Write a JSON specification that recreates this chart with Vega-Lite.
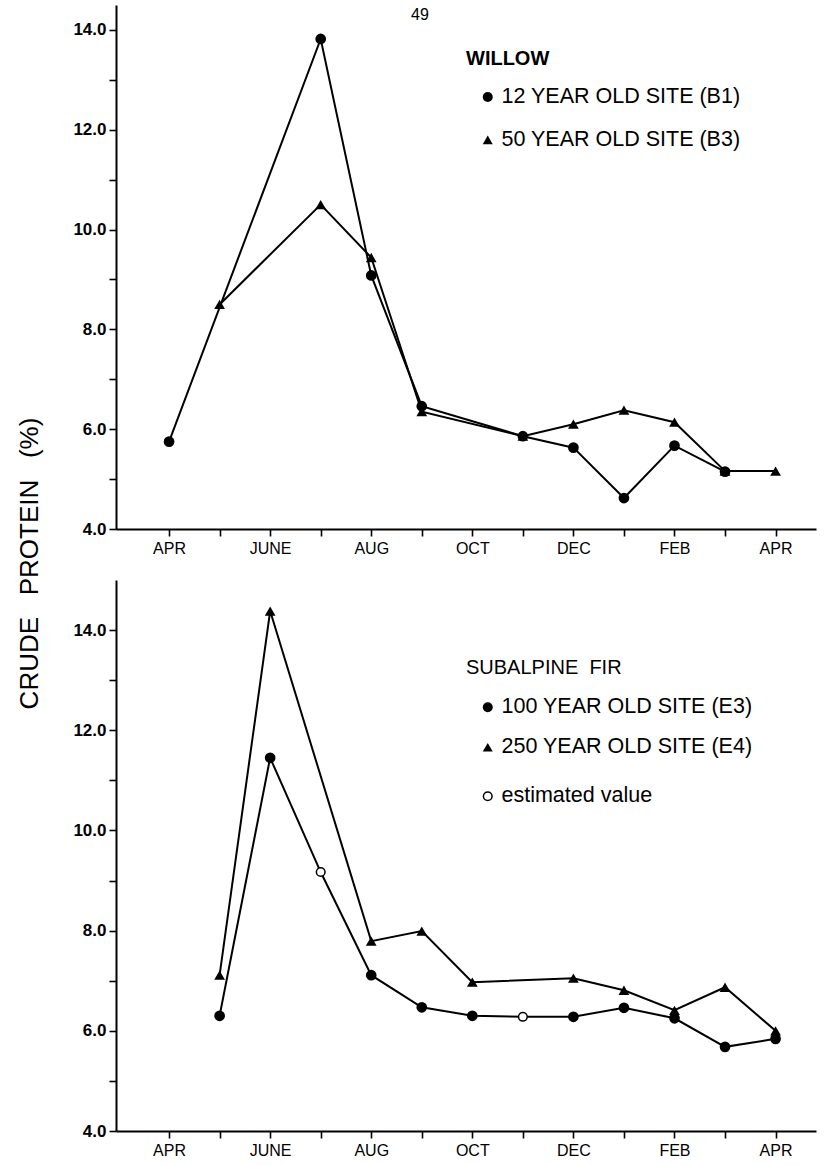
{
  "$schema": "https://vega.github.io/schema/vega-lite/v6.json",
  "padding": {"left": 16, "top": 5, "right": 4, "bottom": 5},
  "background": "white",
  "spacing": 51,
  "bounds": "flush",
  "title": {
    "text": "CRUDE\u00a0\u00a0 PROTEIN\u00a0\u00a0 (%)",
    "orient": "left",
    "anchor": "middle",
    "fontSize": 26,
    "fontWeight": "normal",
    "font": "Liberation Sans",
    "color": "black",
    "offset": 30,
    "dx": 18
  },
  "data": {
    "values": [
      {"panel": "willow", "site": "12 YEAR OLD SITE (B1)", "month": 0, "protein": 5.75, "est": false},
      {"panel": "willow", "site": "12 YEAR OLD SITE (B1)", "month": 3, "protein": 13.82, "est": false},
      {"panel": "willow", "site": "12 YEAR OLD SITE (B1)", "month": 4, "protein": 9.08, "est": false},
      {"panel": "willow", "site": "12 YEAR OLD SITE (B1)", "month": 5, "protein": 6.46, "est": false},
      {"panel": "willow", "site": "12 YEAR OLD SITE (B1)", "month": 7, "protein": 5.86, "est": false},
      {"panel": "willow", "site": "12 YEAR OLD SITE (B1)", "month": 8, "protein": 5.63, "est": false},
      {"panel": "willow", "site": "12 YEAR OLD SITE (B1)", "month": 9, "protein": 4.62, "est": false},
      {"panel": "willow", "site": "12 YEAR OLD SITE (B1)", "month": 10, "protein": 5.67, "est": false},
      {"panel": "willow", "site": "12 YEAR OLD SITE (B1)", "month": 11, "protein": 5.15, "est": false},
      {"panel": "willow", "site": "50 YEAR OLD SITE (B3)", "month": 1, "protein": 8.5, "est": false},
      {"panel": "willow", "site": "50 YEAR OLD SITE (B3)", "month": 3, "protein": 10.5, "est": false},
      {"panel": "willow", "site": "50 YEAR OLD SITE (B3)", "month": 4, "protein": 9.44, "est": false},
      {"panel": "willow", "site": "50 YEAR OLD SITE (B3)", "month": 5, "protein": 6.35, "est": false},
      {"panel": "willow", "site": "50 YEAR OLD SITE (B3)", "month": 7, "protein": 5.86, "est": false},
      {"panel": "willow", "site": "50 YEAR OLD SITE (B3)", "month": 8, "protein": 6.1, "est": false},
      {"panel": "willow", "site": "50 YEAR OLD SITE (B3)", "month": 9, "protein": 6.38, "est": false},
      {"panel": "willow", "site": "50 YEAR OLD SITE (B3)", "month": 10, "protein": 6.14, "est": false},
      {"panel": "willow", "site": "50 YEAR OLD SITE (B3)", "month": 11, "protein": 5.16, "est": false},
      {"panel": "willow", "site": "50 YEAR OLD SITE (B3)", "month": 12, "protein": 5.16, "est": false},
      {"panel": "fir", "site": "100 YEAR OLD SITE (E3)", "month": 1, "protein": 6.3, "est": false},
      {"panel": "fir", "site": "100 YEAR OLD SITE (E3)", "month": 2, "protein": 11.45, "est": false},
      {"panel": "fir", "site": "100 YEAR OLD SITE (E3)", "month": 3, "protein": 9.17, "est": true},
      {"panel": "fir", "site": "100 YEAR OLD SITE (E3)", "month": 4, "protein": 7.11, "est": false},
      {"panel": "fir", "site": "100 YEAR OLD SITE (E3)", "month": 5, "protein": 6.47, "est": false},
      {"panel": "fir", "site": "100 YEAR OLD SITE (E3)", "month": 6, "protein": 6.3, "est": false},
      {"panel": "fir", "site": "100 YEAR OLD SITE (E3)", "month": 7, "protein": 6.28, "est": true},
      {"panel": "fir", "site": "100 YEAR OLD SITE (E3)", "month": 8, "protein": 6.28, "est": false},
      {"panel": "fir", "site": "100 YEAR OLD SITE (E3)", "month": 9, "protein": 6.46, "est": false},
      {"panel": "fir", "site": "100 YEAR OLD SITE (E3)", "month": 10, "protein": 6.25, "est": false},
      {"panel": "fir", "site": "100 YEAR OLD SITE (E3)", "month": 11, "protein": 5.68, "est": false},
      {"panel": "fir", "site": "100 YEAR OLD SITE (E3)", "month": 12, "protein": 5.84, "est": false},
      {"panel": "fir", "site": "250 YEAR OLD SITE (E4)", "month": 1, "protein": 7.11, "est": false},
      {"panel": "fir", "site": "250 YEAR OLD SITE (E4)", "month": 2, "protein": 14.38, "est": false},
      {"panel": "fir", "site": "250 YEAR OLD SITE (E4)", "month": 4, "protein": 7.79, "est": false},
      {"panel": "fir", "site": "250 YEAR OLD SITE (E4)", "month": 5, "protein": 7.99, "est": false},
      {"panel": "fir", "site": "250 YEAR OLD SITE (E4)", "month": 6, "protein": 6.97, "est": false},
      {"panel": "fir", "site": "250 YEAR OLD SITE (E4)", "month": 8, "protein": 7.05, "est": false},
      {"panel": "fir", "site": "250 YEAR OLD SITE (E4)", "month": 9, "protein": 6.81, "est": false},
      {"panel": "fir", "site": "250 YEAR OLD SITE (E4)", "month": 10, "protein": 6.41, "est": false},
      {"panel": "fir", "site": "250 YEAR OLD SITE (E4)", "month": 11, "protein": 6.87, "est": false},
      {"panel": "fir", "site": "250 YEAR OLD SITE (E4)", "month": 12, "protein": 6.0, "est": false}
    ]
  },
  "vconcat": [
    {
      "width": 700,
      "height": 524,
      "title": {"text": "49", "frame": "group", "anchor": "middle", "dx": -46, "offset": -18, "fontSize": 16, "fontWeight": "normal", "font": "Liberation Sans", "color": "black"},
      "transform": [{"filter": "datum.panel == 'willow'"}],
      "encoding": {
        "x": {"field": "month", "type": "quantitative", "scale": {"domain": [-1.05, 12.8], "nice": false, "zero": false},
          "axis": {"title": null, "values": [0,1,2,3,4,5,6,7,8,9,10,11,12], "labelExpr": "datum.value % 2 == 0 ? ['APR','MAY','JUNE','JULY','AUG','SEP','OCT','NOV','DEC','JAN','FEB','MAR','APR'][datum.value] : ''"}},
        "y": {"field": "protein", "type": "quantitative", "scale": {"domain": [4, 14.5], "nice": false, "zero": false},
          "axis": {"title": null, "values": [4,5,6,7,8,9,10,11,12,13,14], "labelExpr": "datum.value % 2 == 0 ? format(datum.value, '.1f') : ''"}}
      },
      "layer": [
        {"mark": {"type": "line", "color": "black", "strokeWidth": 2}, "encoding": {"detail": {"field": "site"}}},
        {"mark": {"type": "point", "filled": true, "color": "black", "size": 115, "opacity": 1},
          "encoding": {"shape": {"field": "site", "type": "nominal",
            "scale": {"domain": ["12 YEAR OLD SITE (B1)", "50 YEAR OLD SITE (B3)"], "range": ["circle", "triangle-up"]},
            "legend": {"title": "WILLOW", "orient": "none", "legendX": 350, "legendY": 43.5, "titleFontWeight": "bold", "titlePadding": 17.7, "rowPadding": 20}}}}
      ]
    },
    {
      "width": 700,
      "height": 551,
      "transform": [{"filter": "datum.panel == 'fir'"}],
      "encoding": {
        "x": {"field": "month", "type": "quantitative", "scale": {"domain": [-1.05, 12.8], "nice": false, "zero": false},
          "axis": {"title": null, "values": [0,1,2,3,4,5,6,7,8,9,10,11,12], "labelExpr": "datum.value % 2 == 0 ? ['APR','MAY','JUNE','JULY','AUG','SEP','OCT','NOV','DEC','JAN','FEB','MAR','APR'][datum.value] : ''"}},
        "y": {"field": "protein", "type": "quantitative", "scale": {"domain": [4, 15], "nice": false, "zero": false},
          "axis": {"title": null, "values": [4,5,6,7,8,9,10,11,12,13,14], "labelExpr": "datum.value % 2 == 0 ? format(datum.value, '.1f') : ''"}}
      },
      "layer": [
        {"mark": {"type": "line", "color": "black", "strokeWidth": 2}, "encoding": {"detail": {"field": "site"}}},
        {"transform": [{"filter": "!datum.est"}],
          "mark": {"type": "point", "filled": true, "color": "black", "size": 115, "opacity": 1},
          "encoding": {"shape": {"field": "site", "type": "nominal",
            "scale": {"domain": ["100 YEAR OLD SITE (E3)", "250 YEAR OLD SITE (E4)"], "range": ["circle", "triangle-up"]},
            "legend": {"title": "SUBALPINE\u00a0 FIR", "orient": "none", "legendX": 350, "legendY": 77.5, "titleFontWeight": "normal", "titlePadding": 19, "rowPadding": 17}}}},
        {"transform": [{"filter": "datum.est"}, {"calculate": "'estimated value'", "as": "kind"}],
          "mark": {"type": "point", "filled": true, "shape": "circle", "stroke": "black", "strokeWidth": 1.5, "size": 75, "opacity": 1},
          "encoding": {"fill": {"field": "kind", "type": "nominal", "scale": {"domain": ["estimated value"], "range": ["white"]},
            "legend": {"title": null, "orient": "none", "legendX": 350, "legendY": 205.5, "symbolSize": 75, "symbolStrokeColor": "black", "symbolStrokeWidth": 1.5}}}}
      ]
    }
  ],
  "resolve": {"scale": {"shape": "independent", "fill": "independent", "x": "independent", "y": "independent"}, "legend": {"shape": "independent", "fill": "independent"}},
  "config": {
    "view": {"stroke": null},
    "font": "Liberation Sans",
    "axis": {"grid": false, "domainColor": "black", "domainWidth": 2, "tickColor": "black", "tickWidth": 1.6, "labelColor": "black", "labelOverlap": false, "labelFlush": false},
    "axisX": {"tickSize": 7, "labelPadding": 4, "labelFontSize": 16, "labelFont": "Liberation Sans", "labelFontWeight": "normal"},
    "axisY": {"tickSize": 7, "labelPadding": 3, "labelFontSize": 17, "labelFont": "Liberation Sans", "labelFontWeight": "bold"},
    "legend": {"padding": 0, "titleFontSize": 20, "titleFont": "Liberation Sans", "titleColor": "black", "labelFontSize": 21.5, "labelFont": "Liberation Sans", "labelColor": "black", "labelLimit": 0, "symbolSize": 100, "symbolOffset": 11, "labelOffset": 3, "symbolStrokeWidth": 0}
  }
}
